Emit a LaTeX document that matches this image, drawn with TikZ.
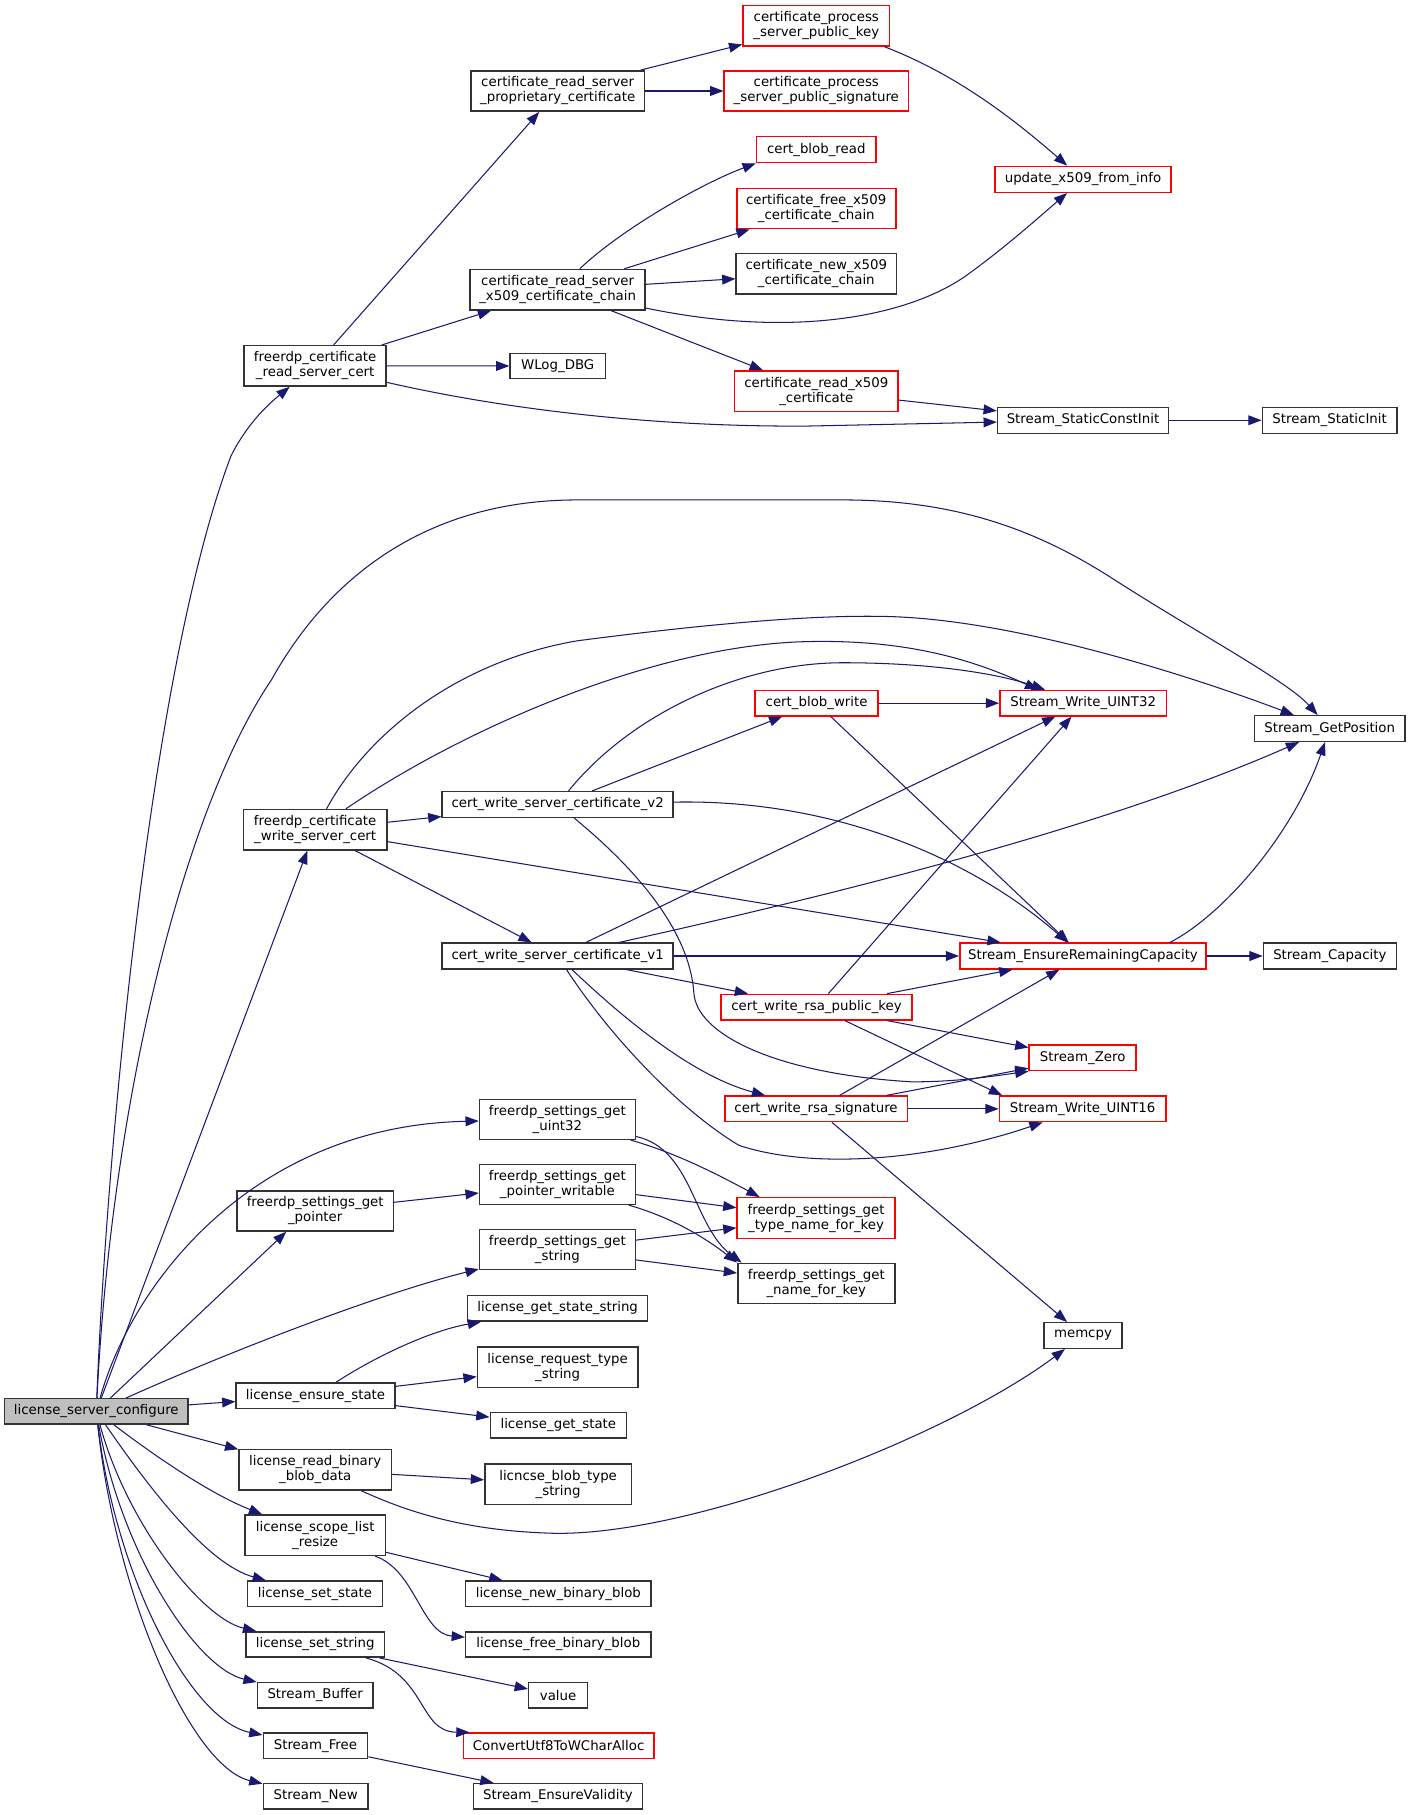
\documentclass[tikz,border=0pt]{standalone}
\usepackage{fontspec}
\setmainfont{DejaVu Sans}
\usetikzlibrary{arrows.meta}
\definecolor{edgecol}{HTML}{191970}
\definecolor{boxcol}{HTML}{333333}
\definecolor{redcol}{HTML}{FF0000}
\definecolor{rootfill}{HTML}{BFBFBF}
\begin{document}
\begin{tikzpicture}[x=1pt,y=-1pt,
  box/.style={draw=boxcol, line width=1.25pt, fill=white, inner sep=0pt, align=center,
    font=\fontsize{11.55}{13}\selectfont},
  redbox/.style={box, draw=redcol},
  rootbox/.style={box, fill=rootfill},
  wh/.style 2 args={minimum width=#1pt, minimum height=#2pt},
  call/.style={draw=edgecol, line width=0.9pt, -{Triangle[length=11.5pt,width=8.5pt]}}]
\path[fill=white] (0,0) rectangle (1222,1572);
\useasboundingbox (0,0) rectangle (1222,1572);

% ---------- nodes ----------
\node[rootbox, wh={159}{22}] (lsc) at (83.4,1222.4) {license\_server\_configure};
\node[box, wh={123}{35}] (frsc) at (273,316.9) {freerdp\_certificate\\\_read\_server\_cert};
\node[box, wh={150.5}{35}] (crspc) at (483,78.8) {certificate\_read\_server\\\_proprietary\_certificate};
\node[redbox, wh={127}{35}] (cpspk) at (707,22.4) {certificate\_process\\\_server\_public\_key};
\node[redbox, wh={159.5}{35}] (cpsps) at (707,78.8) {certificate\_process\\\_server\_public\_signature};
\node[redbox, wh={103.5}{22.5}] (cbr) at (707,129.6) {cert\_blob\_read};
\node[redbox, wh={152.5}{22.5}] (upd) at (938,155.3) {update\_x509\_from\_info};
\node[redbox, wh={137.7}{35}] (cfxcc) at (707,180.6) {certificate\_free\_x509\\\_certificate\_chain};
\node[box, wh={151.5}{35}] (crsx) at (483,250.9) {certificate\_read\_server\\\_x509\_certificate\_chain};
\node[box, wh={138.8}{35}] (cnxcc) at (707,237.2) {certificate\_new\_x509\\\_certificate\_chain};
\node[box, wh={82.5}{22}] (wlog) at (483,317) {WLog\_DBG};
\node[redbox, wh={141.6}{35}] (crx509) at (707,338.7) {certificate\_read\_x509\\\_certificate};
\node[box, wh={148}{22.5}] (sci) at (938,364) {Stream\_StaticConstInit};
\node[box, wh={116.6}{22.5}] (ssi) at (1151.6,364) {Stream\_StaticInit};
\node[box, wh={130.6}{22.2}] (gp) at (1151.7,631) {Stream\_GetPosition};
\node[redbox, wh={144.4}{22}] (sw32) at (938.2,609) {Stream\_Write\_UINT32};
\node[redbox, wh={106.5}{22}] (cbw) at (707.3,609) {cert\_blob\_write};
\node[box, wh={124}{35}] (fwsc) at (273,718.7) {freerdp\_certificate\\\_write\_server\_cert};
\node[box, wh={200}{22.2}] (v2) at (483,696.7) {cert\_write\_server\_certificate\_v2};
\node[box, wh={200}{22.2}] (v1) at (483,828) {cert\_write\_server\_certificate\_v1};
\node[redbox, wh={213.4}{22.2}] (erc) at (938,828) {Stream\_EnsureRemainingCapacity};
\node[box, wh={115}{22.2}] (scap) at (1151.8,828) {Stream\_Capacity};
\node[redbox, wh={165.7}{22.2}] (crpk) at (707.2,872.3) {cert\_write\_rsa\_public\_key};
\node[redbox, wh={92.6}{22.2}] (sz) at (937.7,916.2) {Stream\_Zero};
\node[redbox, wh={158}{22.2}] (crs) at (706.8,960.4) {cert\_write\_rsa\_signature};
\node[redbox, wh={144.3}{22.2}] (sw16) at (937.7,960.4) {Stream\_Write\_UINT16};
\node[box, wh={135}{34.6}] (fsgu) at (482.8,969.5) {freerdp\_settings\_get\\\_uint32};
\node[box, wh={135.4}{34.7}] (fsgp) at (273,1048.8) {freerdp\_settings\_get\\\_pointer};
\node[box, wh={135}{34.6}] (fspw) at (482.8,1025.8) {freerdp\_settings\_get\\\_pointer\_writable};
\node[redbox, wh={136.6}{35.2}] (fstn) at (706.8,1055) {freerdp\_settings\_get\\\_type\_name\_for\_key};
\node[box, wh={135}{34.6}] (fsgs) at (482.8,1082.4) {freerdp\_settings\_get\\\_string};
\node[box, wh={136}{34.7}] (fsnk) at (707,1111.5) {freerdp\_settings\_get\\\_name\_for\_key};
\node[box, wh={156}{22}] (lgss) at (483,1133.2) {license\_get\_state\_string};
\node[box, wh={67.6}{22.2}] (memcpy) at (938,1156.7) {memcpy};
\node[box, wh={139}{35}] (lrts) at (483,1184) {license\_request\_type\\\_string};
\node[box, wh={137.5}{22}] (les) at (273.3,1209) {license\_ensure\_state};
\node[box, wh={118}{22}] (lgs) at (483.6,1234.6) {license\_get\_state};
\node[box, wh={132}{35}] (lrbbd) at (273,1273) {license\_read\_binary\\\_blob\_data};
\node[box, wh={127}{35}] (lbts) at (483.4,1285.5) {licncse\_blob\_type\\\_string};
\node[box, wh={121.6}{35}] (lslr) at (273,1329.7) {license\_scope\_list\\\_resize};
\node[box, wh={160.6}{22}] (lnbb) at (483.6,1380.4) {license\_new\_binary\_blob};
\node[box, wh={117}{22}] (lsst) at (272.8,1380.4) {license\_set\_state};
\node[box, wh={120}{22}] (lsstr) at (273,1424.3) {license\_set\_string};
\node[box, wh={160.6}{22}] (lfbb) at (483.6,1424.3) {license\_free\_binary\_blob};
\node[box, wh={51}{22}] (value) at (483.4,1468.3) {value};
\node[box, wh={100}{22}] (sbuf) at (273,1468.3) {Stream\_Buffer};
\node[redbox, wh={165}{22}] (cu8) at (483.8,1512) {ConvertUtf8ToWCharAlloc};
\node[box, wh={90.4}{22}] (sfree) at (273.2,1512) {Stream\_Free};
\node[box, wh={90.8}{22}] (snew) at (273.4,1555.8) {Stream\_New};
\node[box, wh={146.5}{22}] (sev) at (483.2,1555.8) {Stream\_EnsureValidity};

% ---------- edges from license_server_configure ----------
\draw[call] (lsc) .. controls (92,1000) and (130,580) .. (200,395) .. controls (215,365) and (235,348) .. (frsc);
\draw[call] (lsc) .. controls (97,950) and (160,700) .. (235,589) .. controls (290,490) and (380,433) .. (500,433) -- (730,433) .. controls (830,433) and (900,460) .. (965,502) .. controls (1040,550) and (1115,590) .. (gp);
\draw[call] (lsc) -- (fwsc);
\draw[call] (lsc) .. controls (115,1110) and (220,975) .. (fsgu);
\draw[call] (lsc) -- ([xshift=-25pt]fsgp.south);
\draw[call] (lsc) .. controls (200,1170) and (330,1120) .. (fsgs);
\draw[call] (lsc) -- (les);
\draw[call] (lsc) -- (lrbbd);
\draw[call] (lsc) .. controls (130,1258) and (180,1293) .. (lslr);
\draw[call] (lsc) .. controls (130,1290) and (180,1355) .. (lsst);
\draw[call] (lsc) .. controls (110,1320) and (175,1402) .. (lsstr);
\draw[call] (lsc) .. controls (105,1345) and (170,1445) .. (sbuf);
\draw[call] (lsc) .. controls (100,1365) and (165,1490) .. (sfree);
\draw[call] (lsc) .. controls (100,1380) and (165,1530) .. (snew);

% ---------- read server cert ----------
\draw[call] (frsc) -- (crspc);
\draw[call] (frsc) -- (crsx);
\draw[call] (frsc) -- (wlog);
\draw[call] (frsc) .. controls (430,353) and (560,370) .. (700,369) -- (sci);
\draw[call] (crspc) -- (cpspk);
\draw[call] (crspc) -- (cpsps);
\draw[call] ([xshift=-5pt]cpspk.south east) .. controls (830,65) and (880,105) .. (upd);
\draw[call] (crsx) .. controls (540,197) and (610,158) .. (cbr.south west);
\draw[call] (crsx) -- (cfxcc);
\draw[call] (crsx) -- (cnxcc);
\draw[call] (crsx) .. controls (680,292) and (780,277) .. (835,240) .. controls (870,215) and (900,188) .. (upd);
\draw[call] (crsx) -- (crx509);
\draw[call] (crx509) -- (sci);
\draw[call] (sci) -- (ssi);

% ---------- write server cert ----------
\draw[call] (fwsc) .. controls (320,632) and (400,572) .. (500,555) .. controls (600,542) and (700,532) .. (770,534) .. controls (880,537) and (1030,585) .. (gp);
\draw[call] (fwsc) .. controls (400,632) and (560,562) .. (690,556) .. controls (790,552) and (850,575) .. ([xshift=-39pt]sw32.north);
\draw[call] (fwsc) -- (v2);
\draw[call] (fwsc) -- (erc);
\draw[call] (fwsc) -- (v1);

\draw[call] (v2) -- (cbw);
\draw[call] (v2) .. controls (545,620) and (640,574) .. (730,574) .. controls (800,574) and (860,582) .. ([xshift=-33pt]sw32.north);
\draw[call] (v2) .. controls (720,692) and (840,742) .. (erc);
\draw[call] (v2) .. controls (550,752) and (597,805) .. (601,860) .. controls (603,895) and (670,930) .. (790,937) .. controls (830,937) and (860,932) .. (sz.south west);

\draw[call] (cbw) -- (sw32);
\draw[call] (cbw) -- (erc);

\draw[call] (v1) -- (sw32);
\draw[call] (v1) .. controls (700,780) and (950,720) .. (gp);
\draw[call] (v1) -- (erc);
\draw[call] (v1) -- (crpk);
\draw[call] (v1) .. controls (540,882) and (600,932) .. (crs);
\draw[call] (v1) .. controls (530,900) and (590,962) .. (640,992) .. controls (700,1012) and (800,1007) .. (sw16);

\draw[call] (crpk) -- (sw32);
\draw[call] (crpk) -- (erc);
\draw[call] (crpk) -- (sz);
\draw[call] (crpk) -- ([xshift=3pt]sw16.north west);

\draw[call] (crs) -- (erc);
\draw[call] (crs) -- (sz);
\draw[call] (crs) -- (sw16);
\draw[call] (crs) -- (memcpy);

\draw[call] (erc) -- (scap);
\draw[call] ([xshift=-32pt]erc.north east) .. controls (1060,792) and (1120,722) .. (gp);

% ---------- settings ----------
\draw[call] (fsgu) .. controls (580,997) and (612,1012) .. ([xshift=20pt]fstn.north west);
\draw[call] (fsgu) .. controls (600,995) and (600,1062) .. ([xshift=4pt]fsnk.north west);
\draw[call] (fsgp) -- (fspw);
\draw[call] (fspw) -- (fstn);
\draw[call] (fspw) .. controls (580,1054) and (608,1070) .. (fsnk.north west);
\draw[call] (fsgs) -- (fstn);
\draw[call] (fsgs) -- (fsnk);

% ---------- license ----------
\draw[call] (les) .. controls (320,1178) and (370,1153) .. (lgss);
\draw[call] (les) -- (lrts);
\draw[call] (les) -- (lgs);
\draw[call] (lrbbd) -- (lbts);
\draw[call] (lrbbd) .. controls (350,1308) and (400,1326) .. (480,1328) .. controls (600,1330) and (820,1245) .. (memcpy);
\draw[call] (lslr) -- (lnbb);
\draw[call] (lslr) .. controls (360,1360) and (365,1415) .. (lfbb);
\draw[call] (lsstr) -- (value);
\draw[call] (lsstr) .. controls (370,1450) and (362,1500) .. ([xshift=6pt]cu8.north west);
\draw[call] (sfree) -- (sev);
\end{tikzpicture}
\end{document}
